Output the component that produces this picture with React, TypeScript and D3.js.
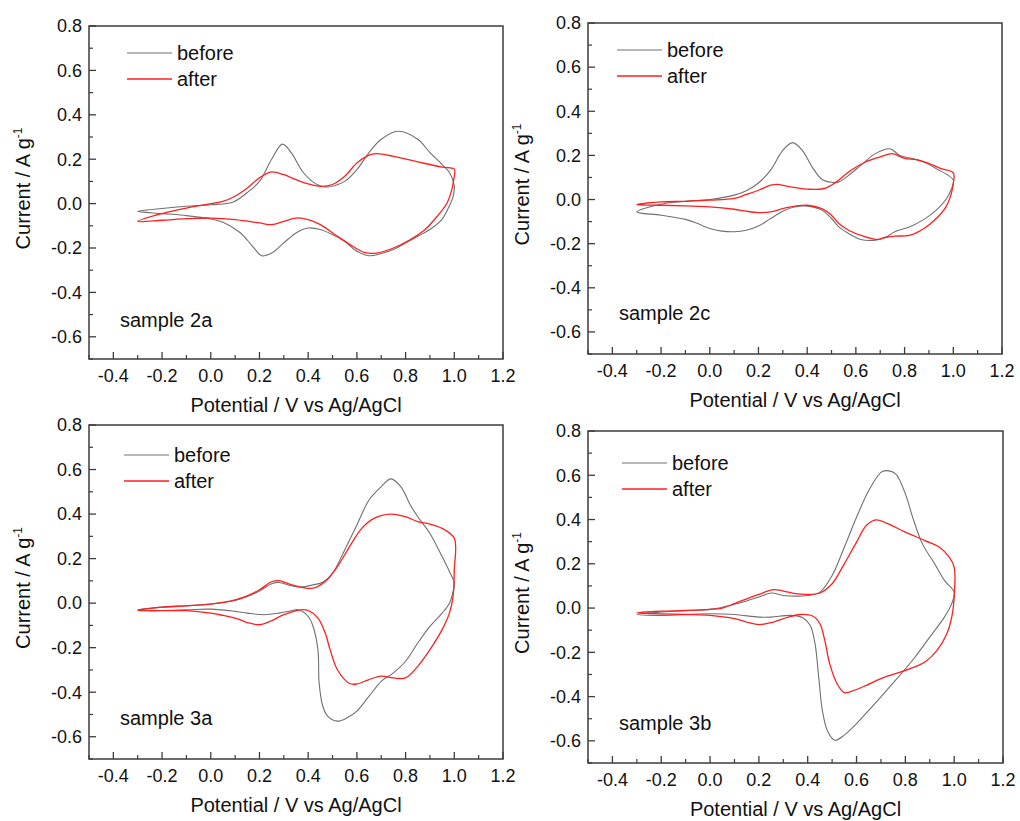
import React, { useEffect, useRef } from 'react';
import * as d3 from 'd3';

// CV loops: start at -0.3 V, anodic sweep to 1.0 V, cathodic sweep back
const sample2aBefore: [number, number][] = [
  [-0.3, -0.035], [-0.2, -0.022], [-0.1, -0.012], [0.0, -0.005], [0.09, 0.006], [0.15, 0.05], [0.2, 0.1],
  [0.25, 0.2], [0.294, 0.268], [0.33, 0.23], [0.38, 0.14], [0.43, 0.09], [0.475, 0.075], [0.55, 0.1],
  [0.6, 0.153], [0.65, 0.23], [0.7, 0.29], [0.77, 0.326], [0.85, 0.29], [0.9, 0.23], [0.95, 0.176],
  [0.98, 0.14], [1.0, 0.08], [0.995, 0.03], [0.98, -0.01], [0.95, -0.07], [0.9, -0.117], [0.85, -0.147],
  [0.8, -0.177], [0.75, -0.207], [0.7, -0.225], [0.65, -0.235], [0.6, -0.215], [0.55, -0.17], [0.5, -0.14],
  [0.45, -0.117], [0.4, -0.11], [0.35, -0.132], [0.3, -0.177], [0.25, -0.223], [0.21, -0.235], [0.17, -0.19],
  [0.12, -0.13], [0.05, -0.084], [0.0, -0.069], [-0.1, -0.054], [-0.2, -0.045],
];
const sample2aAfter: [number, number][] = [
  [-0.3, -0.08], [-0.2, -0.045], [-0.1, -0.02], [0.0, 0.0], [0.05, 0.01], [0.1, 0.033], [0.15, 0.07],
  [0.2, 0.116], [0.25, 0.143], [0.3, 0.13], [0.35, 0.108], [0.4, 0.089], [0.45, 0.078], [0.5, 0.086],
  [0.55, 0.123], [0.6, 0.183], [0.65, 0.218], [0.68, 0.225], [0.75, 0.213], [0.85, 0.188], [0.95, 0.164],
  [1.0, 0.155], [0.998, 0.11], [0.99, 0.063], [0.97, 0.003], [0.93, -0.057], [0.88, -0.117], [0.82, -0.162],
  [0.75, -0.2], [0.68, -0.223], [0.63, -0.22], [0.58, -0.19], [0.52, -0.147], [0.45, -0.095], [0.4, -0.072],
  [0.35, -0.065], [0.3, -0.08], [0.25, -0.095], [0.2, -0.087], [0.1, -0.072], [0.0, -0.065], [-0.1, -0.068],
  [-0.2, -0.075],
];

const sample2cBefore: [number, number][] = [
  [-0.3, -0.056], [-0.2, -0.021], [-0.1, -0.008], [0.0, 0.0], [0.1, 0.02], [0.15, 0.04], [0.2, 0.075],
  [0.25, 0.133], [0.3, 0.223], [0.34, 0.258], [0.38, 0.223], [0.42, 0.148], [0.46, 0.092], [0.5, 0.078],
  [0.53, 0.08], [0.58, 0.118], [0.62, 0.155], [0.68, 0.208], [0.74, 0.23], [0.78, 0.2], [0.83, 0.186],
  [0.88, 0.17], [0.93, 0.14], [1.0, 0.088], [0.99, 0.042], [0.97, 0.0], [0.93, -0.048], [0.88, -0.09],
  [0.82, -0.124], [0.76, -0.146], [0.72, -0.172], [0.68, -0.184], [0.62, -0.181], [0.57, -0.154],
  [0.53, -0.124], [0.5, -0.086], [0.46, -0.048], [0.4, -0.03], [0.35, -0.033], [0.3, -0.053], [0.25, -0.086],
  [0.2, -0.12], [0.15, -0.139], [0.1, -0.146], [0.05, -0.143], [0.0, -0.131], [-0.05, -0.109], [-0.1, -0.09],
  [-0.2, -0.071],
];
const sample2cAfter: [number, number][] = [
  [-0.3, -0.023], [-0.2, -0.011], [-0.1, -0.008], [0.0, -0.003], [0.1, 0.005], [0.15, 0.023], [0.2, 0.042],
  [0.25, 0.065], [0.28, 0.069], [0.33, 0.057], [0.4, 0.047], [0.47, 0.05], [0.52, 0.08], [0.58, 0.133],
  [0.64, 0.17], [0.7, 0.193], [0.75, 0.208], [0.8, 0.186], [0.85, 0.181], [0.9, 0.163], [0.95, 0.14],
  [1.0, 0.121], [1.0, 0.072], [0.99, 0.02], [0.97, -0.033], [0.93, -0.086], [0.88, -0.131], [0.82, -0.162],
  [0.76, -0.166], [0.72, -0.172], [0.69, -0.181], [0.63, -0.166], [0.57, -0.139], [0.53, -0.109],
  [0.5, -0.071], [0.46, -0.041], [0.4, -0.026], [0.35, -0.03], [0.3, -0.041], [0.25, -0.056], [0.2, -0.059],
  [0.15, -0.053], [0.1, -0.044], [0.0, -0.033], [-0.1, -0.029], [-0.2, -0.026],
];

const sample3aBefore: [number, number][] = [
  [-0.3, -0.03], [-0.2, -0.018], [-0.1, -0.012], [0.0, -0.004], [0.1, 0.012], [0.15, 0.03], [0.2, 0.055],
  [0.25, 0.087], [0.28, 0.093], [0.33, 0.078], [0.37, 0.072], [0.42, 0.082], [0.46, 0.094], [0.5, 0.134],
  [0.55, 0.239], [0.6, 0.351], [0.65, 0.463], [0.7, 0.523], [0.74, 0.558], [0.78, 0.523], [0.82, 0.44],
  [0.85, 0.388], [0.9, 0.313], [0.95, 0.209], [0.98, 0.142], [1.0, 0.09], [0.995, 0.052], [0.98, 0.0],
  [0.95, -0.045], [0.9, -0.104], [0.85, -0.179], [0.8, -0.261], [0.75, -0.313], [0.7, -0.351], [0.65, -0.418],
  [0.6, -0.485], [0.56, -0.515], [0.52, -0.53], [0.48, -0.507], [0.46, -0.463], [0.445, -0.358],
  [0.44, -0.209], [0.42, -0.104], [0.4, -0.06], [0.36, -0.03], [0.33, -0.034], [0.28, -0.045], [0.22, -0.052],
  [0.15, -0.045], [0.1, -0.037], [0.0, -0.027], [-0.1, -0.03], [-0.2, -0.033],
];
const sample3aAfter: [number, number][] = [
  [-0.3, -0.033], [-0.2, -0.018], [-0.1, -0.012], [0.0, -0.004], [0.1, 0.015], [0.15, 0.033], [0.2, 0.06],
  [0.25, 0.096], [0.28, 0.101], [0.32, 0.087], [0.37, 0.072], [0.42, 0.067], [0.47, 0.097], [0.52, 0.164],
  [0.57, 0.254], [0.62, 0.336], [0.67, 0.381], [0.74, 0.4], [0.8, 0.388], [0.85, 0.366], [0.9, 0.355],
  [0.95, 0.336], [1.0, 0.291], [1.0, 0.149], [0.995, 0.03], [0.98, -0.045], [0.95, -0.119], [0.9, -0.209],
  [0.85, -0.284], [0.8, -0.336], [0.75, -0.336], [0.7, -0.328], [0.65, -0.343], [0.6, -0.363], [0.57, -0.361],
  [0.52, -0.299], [0.49, -0.209], [0.47, -0.134], [0.44, -0.067], [0.4, -0.033], [0.37, -0.03], [0.3, -0.052],
  [0.25, -0.079], [0.2, -0.097], [0.15, -0.087], [0.1, -0.067], [0.05, -0.055], [0.0, -0.045], [-0.1, -0.034],
  [-0.2, -0.034],
];

const sample3bBefore: [number, number][] = [
  [-0.3, -0.029], [-0.2, -0.018], [-0.1, -0.011], [0.0, -0.006], [0.1, 0.017], [0.15, 0.032], [0.2, 0.05],
  [0.25, 0.068], [0.3, 0.057], [0.35, 0.054], [0.4, 0.057], [0.45, 0.072], [0.5, 0.147], [0.55, 0.275],
  [0.6, 0.41], [0.65, 0.531], [0.7, 0.613], [0.72, 0.621], [0.76, 0.606], [0.8, 0.516], [0.83, 0.41],
  [0.87, 0.29], [0.92, 0.2], [0.96, 0.125], [1.0, 0.072], [0.99, 0.02], [0.96, -0.041], [0.9, -0.131],
  [0.84, -0.221], [0.76, -0.326], [0.7, -0.401], [0.65, -0.462], [0.6, -0.522], [0.55, -0.574],
  [0.51, -0.597], [0.48, -0.552], [0.46, -0.462], [0.445, -0.311], [0.43, -0.161], [0.41, -0.078],
  [0.38, -0.044], [0.33, -0.033], [0.25, -0.041], [0.2, -0.041], [0.1, -0.029], [0.0, -0.026], [-0.1, -0.029],
  [-0.2, -0.033],
];
const sample3bAfter: [number, number][] = [
  [-0.3, -0.021], [-0.2, -0.014], [-0.1, -0.011], [0.0, -0.006], [0.05, 0.0], [0.1, 0.02], [0.15, 0.042],
  [0.2, 0.062], [0.26, 0.083], [0.3, 0.077], [0.35, 0.065], [0.4, 0.062], [0.45, 0.068], [0.5, 0.11],
  [0.55, 0.2], [0.6, 0.298], [0.64, 0.373], [0.68, 0.398], [0.73, 0.38], [0.8, 0.343], [0.88, 0.305],
  [0.94, 0.275], [0.98, 0.23], [1.0, 0.185], [1.0, 0.05], [0.99, -0.041], [0.97, -0.116], [0.93, -0.191],
  [0.88, -0.244], [0.82, -0.274], [0.76, -0.296], [0.7, -0.319], [0.64, -0.349], [0.59, -0.372],
  [0.55, -0.382], [0.52, -0.341], [0.49, -0.251], [0.47, -0.146], [0.45, -0.071], [0.42, -0.036],
  [0.37, -0.029], [0.32, -0.041], [0.26, -0.063], [0.2, -0.075], [0.15, -0.063], [0.1, -0.048],
  [0.0, -0.033], [-0.1, -0.029], [-0.2, -0.026],
];

const xTicks = [-0.4, -0.2, 0.0, 0.2, 0.4, 0.6, 0.8, 1.0, 1.2];
const xMinor = [-0.5, -0.3, -0.1, 0.1, 0.3, 0.5, 0.7, 0.9, 1.1];
const yTicks = [-0.6, -0.4, -0.2, 0.0, 0.2, 0.4, 0.6, 0.8];
const yMinor = [-0.7, -0.5, -0.3, -0.1, 0.1, 0.3, 0.5, 0.7];
const seriesNames = ['before', 'after'];
const sampleNames = ['sample 2a', 'sample 2c', 'sample 3a', 'sample 3b'];

const FONT = '"Liberation Sans", Arial, sans-serif';
const colors = ['#707070', '#ff1f1f'];

const panels = [
  { name: sampleNames[0], data: [sample2aBefore, sample2aAfter], l: 89, r: 503, t: 26, b: 359, legX: 38, legY: 27, labY: 327 },
  { name: sampleNames[1], data: [sample2cBefore, sample2cAfter], l: 588, r: 1002, t: 23, b: 354, legX: 29, legY: 27, labY: 320 },
  { name: sampleNames[2], data: [sample3aBefore, sample3aAfter], l: 89, r: 503, t: 425, b: 759, legX: 35, legY: 30, labY: 725 },
  { name: sampleNames[3], data: [sample3bBefore, sample3bAfter], l: 588, r: 1003, t: 431, b: 763, legX: 34, legY: 32, labY: 730 },
];

export default function App() {
  const ref = useRef<SVGSVGElement>(null);

  useEffect(() => {
    const svg = d3.select(ref.current);
    svg.selectAll('*').remove();

    panels.forEach((p) => {
      const x = d3.scaleLinear().domain([-0.5, 1.2]).range([p.l, p.r]);
      const y = d3.scaleLinear().domain([-0.7, 0.8]).range([p.b, p.t]);
      const g = svg.append('g');

      const line = d3.line<[number, number]>()
        .x((d) => x(d[0]))
        .y((d) => y(d[1]))
        .curve(d3.curveCatmullRomClosed.alpha(0.5));

      p.data.forEach((s, i) => {
        g.append('path')
          .attr('d', line(s))
          .attr('fill', 'none')
          .attr('stroke', colors[i])
          .attr('stroke-width', i === 0 ? 1.1 : 1.3);
      });

      // frame
      g.append('rect')
        .attr('x', p.l).attr('y', p.t)
        .attr('width', p.r - p.l).attr('height', p.b - p.t)
        .attr('fill', 'none').attr('stroke', '#3c3c3c').attr('stroke-width', 1.5);

      // inward ticks
      const tickColor = '#3c3c3c';
      xTicks.forEach((v) => {
        g.append('line').attr('x1', x(v)).attr('x2', x(v)).attr('y1', p.b).attr('y2', p.b - 7)
          .attr('stroke', tickColor).attr('stroke-width', 1.3);
        g.append('text').attr('x', x(v)).attr('y', p.b + 23).attr('text-anchor', 'middle')
          .attr('font-size', 18).attr('font-family', FONT).attr('fill', '#111')
          .text(v.toFixed(1));
      });
      xMinor.forEach((v) => {
        g.append('line').attr('x1', x(v)).attr('x2', x(v)).attr('y1', p.b).attr('y2', p.b - 4)
          .attr('stroke', tickColor).attr('stroke-width', 1.2);
      });
      yTicks.forEach((v) => {
        g.append('line').attr('x1', p.l).attr('x2', p.l + 7).attr('y1', y(v)).attr('y2', y(v))
          .attr('stroke', tickColor).attr('stroke-width', 1.3);
        g.append('text').attr('x', p.l - 7).attr('y', y(v)).attr('dy', '0.35em').attr('text-anchor', 'end')
          .attr('font-size', 18).attr('font-family', FONT).attr('fill', '#111')
          .text(v.toFixed(1));
      });
      yMinor.forEach((v) => {
        g.append('line').attr('x1', p.l).attr('x2', p.l + 4).attr('y1', y(v)).attr('y2', y(v))
          .attr('stroke', tickColor).attr('stroke-width', 1.2);
      });

      // axis titles
      g.append('text')
        .attr('x', (p.l + p.r) / 2).attr('y', p.b + 53)
        .attr('text-anchor', 'middle').attr('font-size', 20).attr('font-family', FONT).attr('fill', '#111')
        .text('Potential / V vs Ag/AgCl');

      const yt = g.append('text')
        .attr('transform', `translate(${p.l - 59},${(p.t + p.b) / 2 - 4}) rotate(-90)`)
        .attr('text-anchor', 'middle').attr('font-size', 20).attr('font-family', FONT).attr('fill', '#111');
      yt.append('tspan').text('Current / A g');
      yt.append('tspan').attr('font-size', 12).attr('dy', -8).text('-1');

      // legend
      seriesNames.forEach((n, i) => {
        const ly = p.t + p.legY + i * 26;
        g.append('line').attr('x1', p.l + p.legX).attr('x2', p.l + p.legX + 45)
          .attr('y1', ly).attr('y2', ly).attr('stroke', colors[i]).attr('stroke-width', i === 0 ? 1.1 : 1.3);
        g.append('text').attr('x', p.l + p.legX + 50).attr('y', ly + 7)
          .attr('font-size', 20).attr('font-family', FONT).attr('fill', '#111').text(n);
      });

      g.append('text').attr('x', p.l + 31).attr('y', p.labY)
        .attr('font-size', 20).attr('font-family', FONT).attr('fill', '#111').text(p.name);
    });
  }, []);

  return (
    <svg ref={ref} width={1020} height={821}
      style={{ position: 'absolute', left: 0, top: 0, background: '#fff' }} />
  );
}
